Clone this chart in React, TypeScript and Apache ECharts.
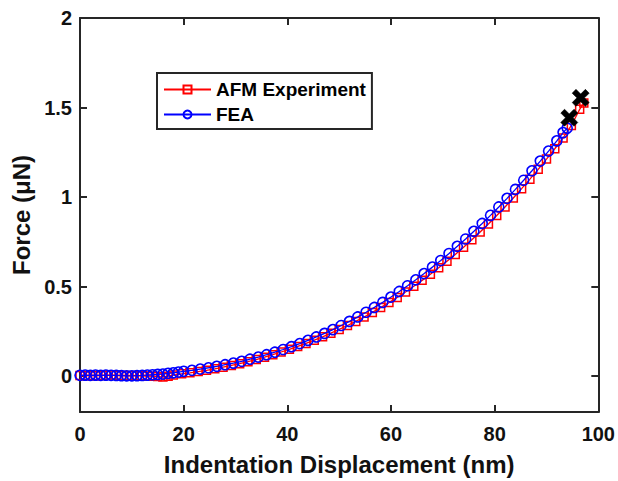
import React, { useEffect, useRef } from "react";
import * as echarts from "echarts";

// FEA simulation (blue circles)
const feaX = [0, 1, 2, 3, 4, 5, 6, 7, 8, 9, 10, 11, 12, 13, 14, 15, 16, 17, 18, 19, 20,
  21.6, 23.2, 24.8, 26.4, 28, 29.6, 31.2, 32.8, 34.4, 36, 37.6, 39.2, 40.8, 42.4, 44, 45.6,
  47.2, 48.8, 50.4, 52, 53.6, 55.2, 56.8, 58.4, 60, 61.6, 63.2, 64.8, 66.4, 68, 69.6, 71.2,
  72.8, 74.4, 76, 77.6, 79.2, 80.8, 82.4, 84, 85.6, 87.2, 88.8, 90.4, 92, 93.2, 94];
const feaY = [0.005, 0.006, 0.005, 0.006, 0.005, 0.006, 0.005, 0.004, 0.003, 0.002, 0.002,
  0.003, 0.004, 0.006, 0.008, 0.010, 0.012, 0.016, 0.019, 0.023, 0.027,
  0.033, 0.040, 0.047, 0.055, 0.064, 0.073, 0.083, 0.095, 0.107, 0.120, 0.134, 0.149, 0.165,
  0.182, 0.200, 0.219, 0.239, 0.260, 0.283, 0.306, 0.331, 0.357, 0.384, 0.412, 0.442, 0.473,
  0.505, 0.538, 0.573, 0.609, 0.646, 0.685, 0.725, 0.766, 0.809, 0.853, 0.898, 0.945, 0.993,
  1.043, 1.094, 1.147, 1.201, 1.257, 1.314, 1.360, 1.385];

// AFM experiment (red squares)
const afmX = [0, 1, 2, 3, 4, 5, 6, 7, 8, 9, 10, 11, 12, 13, 14, 15, 16, 17, 18,
  19.6, 21.2, 22.8, 24.4, 26, 27.6, 29.2, 30.8, 32.4, 34, 35.6, 37.2, 38.8, 40.4, 42, 43.6,
  45.2, 46.8, 48.4, 50, 51.6, 53.2, 54.8, 56.4, 58, 59.6, 61.2, 62.8, 64.4, 66, 67.6, 69.2,
  70.8, 72.4, 74, 75.6, 77.2, 78.8, 80.4, 82, 83.6, 85.2, 86.8, 88.4, 90, 91.6, 93.2, 94.8,
  96.4, 97.2];
const afmY = [0.004, 0.003, 0.004, 0.003, 0.004, 0.005, 0.006, 0.005, 0.004, 0.003, 0.004,
  0.003, 0.002, 0.001, 0.000, -0.002, -0.004, 0.000, 0.006,
  0.013, 0.019, 0.026, 0.033, 0.041, 0.050, 0.060, 0.070, 0.081, 0.093, 0.106, 0.120, 0.135,
  0.150, 0.166, 0.183, 0.201, 0.220, 0.240, 0.261, 0.283, 0.306, 0.330, 0.356, 0.383, 0.411,
  0.440, 0.470, 0.502, 0.535, 0.569, 0.605, 0.642, 0.680, 0.720, 0.762, 0.805, 0.850, 0.897,
  0.945, 0.995, 1.047, 1.100, 1.155, 1.212, 1.270, 1.330, 1.400, 1.490, 1.525];

// Failure markers (black crosses)
const failX = [94.4, 96.6];
const failY = [1.443, 1.554];

const xTicks = [0, 20, 40, 60, 80, 100];
const yTicks = [0, 0.5, 1, 1.5, 2];

const FONT = "'Liberation Sans', Arial, Helvetica, sans-serif";
const AX = "#262626";
const CROSS = "path://M0,4 L4,0 L9,5 L14,0 L18,4 L13,9 L18,14 L14,18 L9,13 L4,18 L0,14 L5,9 Z";

function zip(xs: number[], ys: number[]) {
  return xs.map((x, i) => [x, ys[i]]);
}

export default function App() {
  const ref = useRef<HTMLDivElement>(null);
  useEffect(() => {
    if (!ref.current) return;
    const chart = echarts.init(ref.current, undefined, { renderer: "svg" });
    const axisLine = { show: true, onZero: false, lineStyle: { color: AX, width: 2 } };
    const axisTickX = { show: true, inside: true, length: 7, lineStyle: { color: AX, width: 2 }, customValues: xTicks };
    const axisTickY = { show: true, inside: true, length: 7, lineStyle: { color: AX, width: 2 }, customValues: yTicks };
    const lbl = { color: "#111", fontSize: 20, fontWeight: "bold", fontFamily: FONT };
    chart.setOption({
      animation: false,
      backgroundColor: "#fff",
      grid: { left: 80, right: 19, top: 18, bottom: 67, containLabel: false },
      legend: {
        data: ["AFM Experiment", "FEA"],
        orient: "vertical",
        left: 157,
        top: 73,
        itemWidth: 47,
        itemHeight: 10,
        itemGap: 6,
        padding: [7, 6, 5, 6],
        borderColor: AX,
        borderWidth: 2,
        backgroundColor: "#fff",
        textStyle: { color: "#000", fontSize: 19, fontWeight: "bold", fontFamily: FONT },
        selectedMode: false,
      },
      xAxis: [
        {
          type: "value", min: 0, max: 100, position: "bottom",
          axisLine, axisTick: axisTickX,
          axisLabel: { ...lbl, margin: 12, customValues: xTicks },
          splitLine: { show: false },
          name: "Indentation Displacement (nm)",
          nameLocation: "middle", nameGap: 40,
          nameTextStyle: { color: "#111", fontSize: 24, fontWeight: "bold", fontFamily: FONT },
        },
        {
          type: "value", min: 0, max: 100, position: "top",
          axisLine, axisTick: axisTickX,
          axisLabel: { show: false }, splitLine: { show: false },
        },
      ],
      yAxis: [
        {
          type: "value", min: -0.2, max: 2, position: "left",
          axisLine, axisTick: axisTickY,
          axisLabel: { ...lbl, margin: 8, customValues: yTicks },
          splitLine: { show: false },
          name: "Force (μN)",
          nameLocation: "middle", nameGap: 45,
          nameTextStyle: { color: "#111", fontSize: 24, fontWeight: "bold", fontFamily: FONT },
        },
        {
          type: "value", min: -0.2, max: 2, position: "right",
          axisLine, axisTick: axisTickY,
          axisLabel: { show: false }, splitLine: { show: false },
        },
      ],
      series: [
        {
          name: "AFM Experiment",
          type: "line",
          data: zip(afmX, afmY),
          symbol: "rect",
          symbolSize: 8,
          lineStyle: { color: "#ff0000", width: 1.3 },
          itemStyle: { color: "transparent", borderColor: "#ff0000", borderWidth: 1.5 },
          emphasis: { disabled: true },
          z: 2,
        },
        {
          name: "FEA",
          type: "line",
          data: zip(feaX, feaY),
          symbol: "circle",
          symbolSize: 10,
          lineStyle: { color: "#0000ff", width: 1.3 },
          itemStyle: { color: "transparent", borderColor: "#0000ff", borderWidth: 1.6 },
          emphasis: { disabled: true },
          z: 3,
        },
        {
          name: "Failure",
          type: "scatter",
          data: zip(failX, failY),
          symbol: CROSS,
          symbolSize: 17,
          itemStyle: { color: "#000", borderColor: "#000", borderWidth: 0.6, opacity: 1 },
          emphasis: { disabled: true },
          z: 5,
        },
      ],
    });
    return () => chart.dispose();
  }, []);
  return (
    <div
      ref={ref}
      style={{ position: "fixed", left: 0, top: 0, width: 618, height: 481, background: "#fff" }}
    />
  );
}
